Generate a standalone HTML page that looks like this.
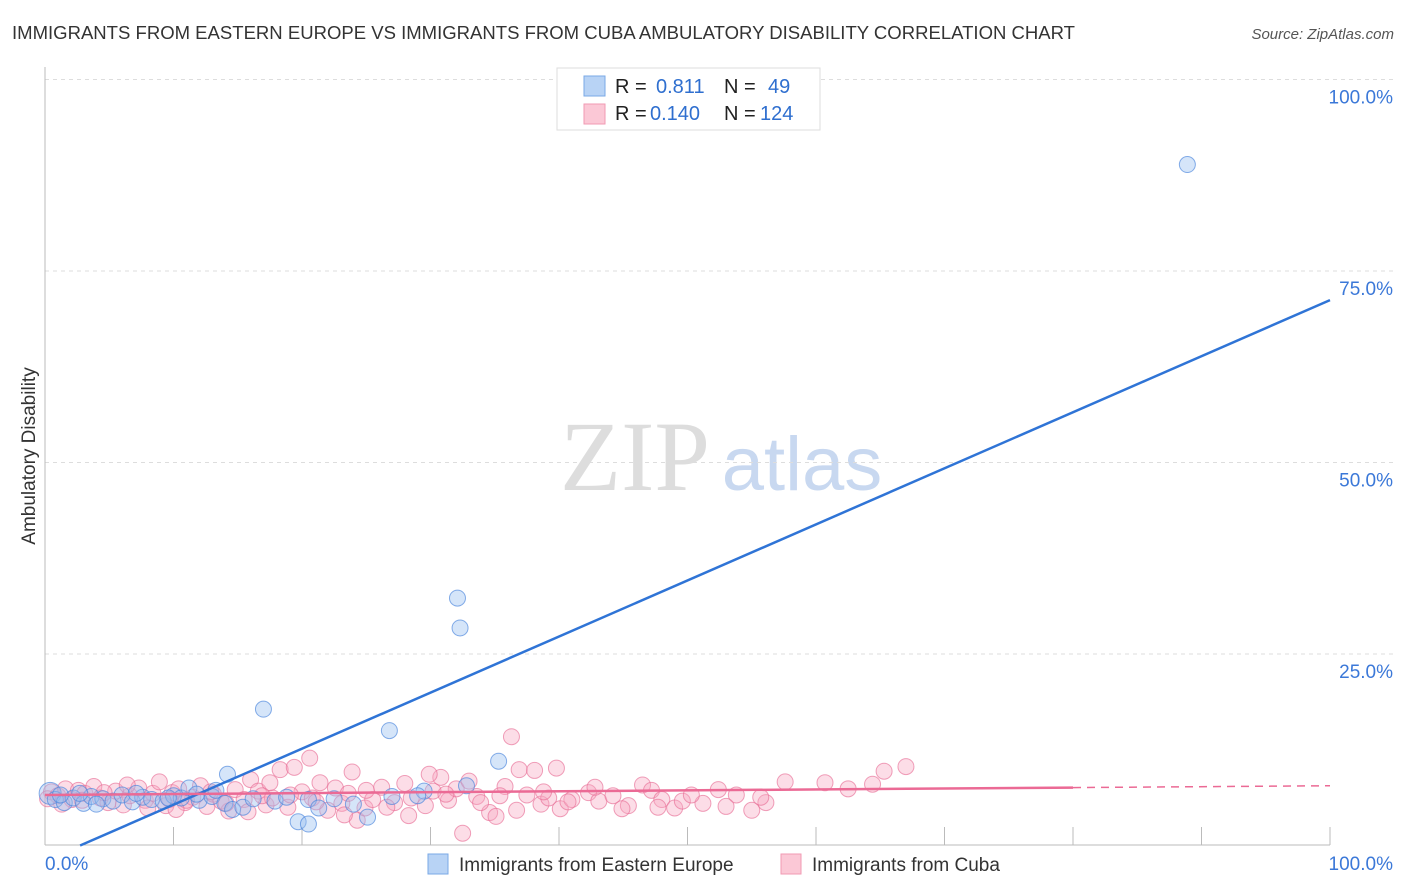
<!DOCTYPE html>
<html><head><meta charset="utf-8"><style>
body{margin:0;background:#fff;font-family:"Liberation Sans",sans-serif}
svg{display:block}
</style></head><body>
<svg id="chart" width="1406" height="892" xmlns="http://www.w3.org/2000/svg">
<text x="12" y="39" font-size="18" fill="#333" textLength="1063" lengthAdjust="spacingAndGlyphs">IMMIGRANTS FROM EASTERN EUROPE VS IMMIGRANTS FROM CUBA AMBULATORY DISABILITY CORRELATION CHART</text>
<text x="1394" y="39" font-size="15" fill="#555" font-style="italic" text-anchor="end">Source: ZipAtlas.com</text>
<text x="35" y="456" font-size="19" fill="#333" transform="rotate(-90 35 456)" text-anchor="middle">Ambulatory Disability</text>
<g><text x="635" y="490" font-size="100" fill="#ddd" font-family="Liberation Serif,serif" text-anchor="middle">ZIP</text><text x="802" y="490" font-size="76" fill="#c8d8f0" text-anchor="middle">atlas</text></g>
<g id="grid"></g><g id="axes"></g><g id="pts"></g><g id="lines"></g>
<g>
<rect x="557" y="68" width="263" height="62" fill="#fff" stroke="#ddd"/>
<rect x="584" y="76" width="21" height="20" fill="#b8d3f5" stroke="#7aa8e6"/>
<rect x="584" y="104" width="21" height="20" fill="#fbc8d6" stroke="#f09ab3"/>
<text x="615" y="93" font-size="20" fill="#222">R = </text><text x="656" y="93" font-size="20" fill="#2f6fcf">0.811</text>
<text x="724" y="93" font-size="20" fill="#222">N = </text><text x="768" y="93" font-size="20" fill="#2f6fcf">49</text>
<text x="615" y="120" font-size="20" fill="#222">R = </text><text x="650" y="120" font-size="20" fill="#2f6fcf">0.140</text>
<text x="724" y="120" font-size="20" fill="#222">N = </text><text x="760" y="120" font-size="20" fill="#2f6fcf">124</text>
</g>
<g>
<rect x="428" y="854" width="20" height="20" fill="#b8d3f5" stroke="#7aa8e6"/>
<text x="459" y="871" font-size="19" fill="#333">Immigrants from Eastern Europe</text>
<rect x="781" y="854" width="20" height="20" fill="#fbc8d6" stroke="#f09ab3"/>
<text x="812" y="871" font-size="19" fill="#333">Immigrants from Cuba</text>
</g>
</svg>
<script>
const yTicks=[25,50,75,100];
const yTickLabels=["25.0%","50.0%","75.0%","100.0%"];
const xTicks=[0,10,20,30,40,50,60,70,80,90,100];
const blueRegression=[-2.0,0.732];
const pinkRegression=[6.6,0.012];
const pinkSolidEnd=80;
const blue=[[88.9,88.9],[32.1,32.3],[32.3,28.4],[17.0,17.8],[26.8,15.0],[35.3,11.0],[32.8,7.8],[14.2,9.3],[19.7,3.1],[20.5,2.8],[25.1,3.7],[29.5,7.1],[0.4,6.8],[0.8,6.0],[1.5,5.6],[2.2,6.2],[3.0,5.5],[3.6,6.4],[4.5,6.1],[5.3,5.8],[6.0,6.6],[6.8,5.7],[7.6,6.3],[8.3,6.0],[9.2,5.8],[10.0,6.5],[10.6,6.2],[11.2,7.5],[12.0,5.9],[13.0,6.4],[13.3,7.2],[14.0,5.5],[14.6,4.7],[15.4,5.0],[16.2,6.1],[17.9,5.8],[18.8,6.3],[20.5,6.0],[21.3,4.9],[22.5,6.1],[24.0,5.4],[29.0,6.5],[1.2,6.6],[2.7,6.8],[4.0,5.4],[7.1,6.8],[9.6,6.2],[11.8,6.7],[27.0,6.4]];
const pink=[[36.3,14.2],[20.6,11.4],[67.0,10.3],[65.3,9.7],[39.8,10.1],[36.9,9.9],[38.1,9.8],[23.9,9.6],[57.6,8.3],[60.7,8.2],[64.4,8.0],[32.5,1.6],[0.5,7.0],[1.0,6.5],[1.6,7.4],[2.1,6.0],[2.6,7.2],[3.1,6.8],[3.8,7.7],[4.3,6.2],[4.9,5.6],[5.5,7.1],[6.1,5.3],[6.6,6.5],[7.3,7.5],[7.8,5.9],[8.4,6.8],[8.9,8.3],[9.4,5.2],[9.9,6.9],[10.4,7.4],[10.9,5.6],[11.5,6.3],[12.1,7.8],[12.6,5.1],[13.1,6.7],[13.7,5.8],[14.3,4.5],[14.8,7.3],[15.5,6.0],[16.0,8.6],[16.6,7.1],[17.2,5.3],[17.7,6.2],[18.3,9.9],[18.9,5.0],[19.4,10.2],[20.0,7.0],[20.8,6.2],[21.4,8.2],[22.0,4.6],[22.6,7.5],[23.1,5.5],[23.6,6.8],[24.3,3.3],[24.9,4.9],[25.5,6.0],[26.2,7.6],[27.2,5.6],[28.0,8.1],[28.5,6.2],[29.6,5.2],[30.2,7.1],[30.8,8.9],[31.4,5.9],[32.0,7.4],[33.0,8.4],[33.6,6.4],[34.6,4.3],[35.1,3.8],[35.8,7.7],[37.5,6.6],[38.6,5.4],[39.2,6.2],[40.1,4.8],[41.0,6.0],[42.3,6.9],[43.1,5.8],[44.2,6.5],[45.4,5.2],[46.5,7.9],[47.2,7.2],[48.0,6.0],[49.0,4.9],[49.6,5.8],[51.2,5.5],[52.4,7.3],[53.8,6.6],[55.0,4.6],[56.1,5.6],[0.2,6.1],[1.3,5.4],[2.9,5.9],[4.6,6.9],[6.4,7.9],[8.0,4.9],[9.7,6.0],[11.0,5.9],[12.9,7.0],[14.1,5.5],[15.8,4.4],[17.5,8.2],[19.1,6.6],[21.1,5.7],[23.3,4.0],[25.0,7.2],[26.6,5.0],[28.3,3.9],[29.9,9.3],[31.2,6.7],[33.9,5.6],[35.4,6.5],[36.7,4.6],[38.8,7.0],[40.7,5.7],[42.8,7.6],[44.9,4.8],[47.7,5.0],[50.3,6.6],[53.0,5.1],[55.7,6.3],[62.5,7.4],[10.2,4.7],[16.9,6.5]];
const X=v=>45+v*12.85, Y=v=>845.5-v*7.66;
const NS="http://www.w3.org/2000/svg";
function mk(tag,attrs,parent){const e=document.createElementNS(NS,tag);for(const k in attrs)e.setAttribute(k,attrs[k]);document.getElementById(parent).appendChild(e);return e;}
yTicks.forEach((t,i)=>{
 const g=mk('line',{x1:45,x2:1394,y1:Y(t),y2:Y(t),stroke:'#ddd','stroke-dasharray':'4,4'},'grid');
 
 
 const l=mk('text',{x:1393,y:Y(t)+24,'font-size':19,fill:'#3b78d8','text-anchor':'end'},'grid');l.textContent=yTickLabels[i];
 
 
});
const ax=mk('line',{x1:45,x2:1330,y1:845,y2:845,stroke:'#bbb'},'axes');


const ay=mk('line',{x1:45,x2:45,y1:67,y2:845,stroke:'#bbb'},'axes');


xTicks.forEach(t=>{const e=mk('line',{x1:X(t),x2:X(t),y1:827,y2:845,stroke:'#bbb'},'axes');
 
 });
let t0=mk('text',{x:45,y:870,'font-size':19,fill:'#3b78d8'},'axes');t0.textContent='0.0%';


let t1=mk('text',{x:1393,y:870,'font-size':19,fill:'#3b78d8','text-anchor':'end'},'axes');t1.textContent='100.0%';


pink.forEach(p=>{const c=mk('circle',{cx:X(p[0]),cy:Y(p[1]),r:8,fill:'rgba(248,165,192,0.38)',stroke:'rgba(232,110,150,0.65)'},'pts');
 
 });
blue.forEach((p,i)=>{const c=mk('circle',{cx:X(p[0]),cy:Y(p[1]),r:i==12?11:8,fill:'rgba(150,190,240,0.4)',stroke:'rgba(70,130,220,0.65)'},'pts');
 
 });
const x0=-blueRegression[0]/blueRegression[1];
const bl=mk('line',{x1:X(x0),y1:Y(0),x2:X(100),y2:Y(blueRegression[0]+blueRegression[1]*100),stroke:'#2f74d6','stroke-width':2.5},'lines');


const pf=v=>pinkRegression[0]+pinkRegression[1]*v;
const pl=mk('line',{x1:X(0),y1:Y(pf(0)),x2:X(pinkSolidEnd),y2:Y(pf(pinkSolidEnd)),stroke:'#eb6a95','stroke-width':2.5},'lines');


const pd=mk('line',{x1:X(pinkSolidEnd),y1:Y(pf(pinkSolidEnd)),x2:X(100),y2:Y(pf(100)),stroke:'#eb6a95','stroke-width':1.5,'stroke-dasharray':'8,6'},'lines');


</script>
</body></html>
